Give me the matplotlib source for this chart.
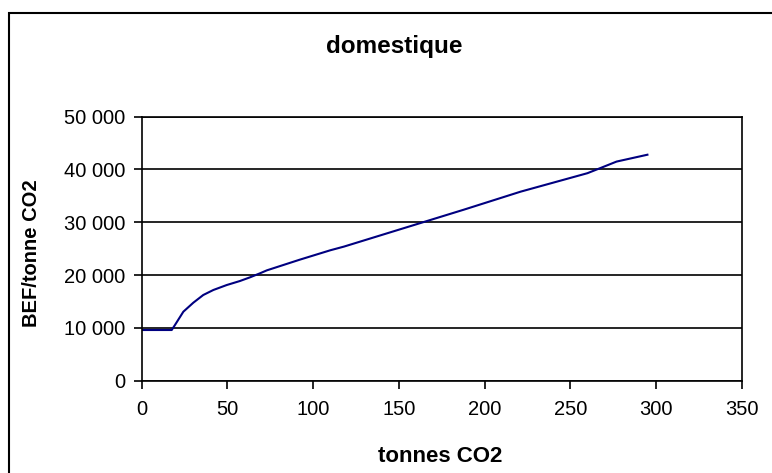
import matplotlib
matplotlib.use("Agg")
import matplotlib.pyplot as plt
from matplotlib.patches import Rectangle
from matplotlib.ticker import FuncFormatter

plt.rcParams['font.family'] = ['Liberation Sans', 'DejaVu Sans']

tonnes = [0, 17.5, 19.4, 24.3, 30.1, 35.9, 41.8, 49.6, 57.3, 63.2, 69, 73, 92, 110,
          118, 164, 188, 221, 260, 267, 277, 295]
bef = [9600, 9600, 10550, 13070, 14770, 16230, 17180, 18120, 18880, 19580, 20340,
       20900, 22900, 24700, 25400, 30000, 32400, 35800, 39300, 40200, 41500, 42800]
xticks = [0, 50, 100, 150, 200, 250, 300, 350]
yticks = [0, 10000, 20000, 30000, 40000, 50000]

W, H = 772, 473
fig = plt.figure(figsize=(W / 100, H / 100), dpi=100)
fig.patch.set_facecolor('white')

# outer chart border (right and bottom edges fall outside the image)
fig.patches.append(Rectangle((9 / W, -20 / H), (W + 40) / W, (H - 13 + 20) / H,
                             transform=fig.transFigure, fill=False,
                             edgecolor='black', linewidth=1.5))

left, right, top, bottom = 141.7, 741.7, 116.7, 380.7
ax = fig.add_axes([left / W, 1 - bottom / H, (right - left) / W, (bottom - top) / H])

ax.plot(tonnes, bef, color='#000080', linewidth=1.5)
ax.set_xlim(0, 350)
ax.set_ylim(0, 50000)
ax.set_xticks(xticks)
ax.set_yticks(yticks)
ax.yaxis.set_major_formatter(FuncFormatter(lambda v, p: f"{int(v):,}".replace(",", " ")))
ax.grid(axis='y', color='black', linewidth=1.2)
ax.set_axisbelow(True)
for s in ax.spines.values():
    s.set_linewidth(1.2)
    s.set_color('black')
ax.tick_params(axis='both', direction='out', length=6, width=1.2, labelsize=14.5, pad=6)
ax.tick_params(axis='x', pad=8)

fig.text(394 / W, 1 - 47 / H, 'domestique', ha='center', va='center',
         fontsize=17.5, fontweight='bold')
fig.text(440 / W, 1 - 456 / H, 'tonnes CO2', ha='center', va='center',
         fontsize=16, fontweight='bold')
fig.text(32 / W, 1 - 253.5 / H, 'BEF/tonne CO2', ha='center', va='center',
         rotation=90, fontsize=14.5, fontweight='bold')

fig.savefig('out.png', dpi=100)
